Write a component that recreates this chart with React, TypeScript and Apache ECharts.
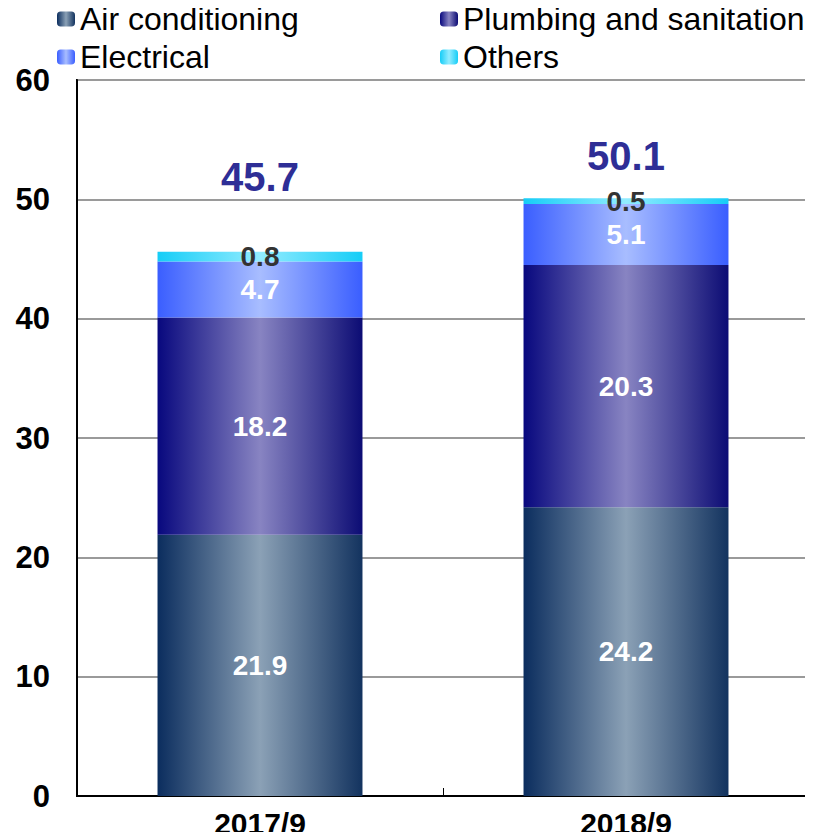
import React, { useEffect, useRef } from "react";
import * as echarts from "echarts";

const categories = ["2017/9", "2018/9"];
const airConditioning = [21.9, 24.2];
const plumbingSanitation = [18.2, 20.3];
const electrical = [4.7, 5.1];
const others = [0.8, 0.5];
const totals = [45.7, 50.1];
const seriesNames = ["Air conditioning", "Plumbing and sanitation", "Electrical", "Others"];

const FONT = "'Liberation Sans', Arial, sans-serif";

const hGrad = (edge: string, mid: string, edgeR?: string) =>
  new echarts.graphic.LinearGradient(0, 0, 1, 0, [
    { offset: 0, color: edge },
    { offset: 0.5, color: mid },
    { offset: 1, color: edgeR || edge },
  ]);

export default function App() {
  const ref = useRef<HTMLDivElement>(null);

  useEffect(() => {
    if (!ref.current) return;
    const chart = echarts.init(ref.current, undefined, { renderer: "svg" });

    const fills = [
      hGrad("#0b2d5e", "#8ba1b6", "#13335f"),
      hGrad("#08087e", "#8884c2", "#0c0c74"),
      hGrad("#3a5eff", "#a8bdff"),
      hGrad("#16cdf7", "#92ecff"),
    ];
    const values = [airConditioning, plumbingSanitation, electrical, others];

    const segmentLabel = (dark: boolean) => ({
      show: true,
      position: "inside" as const,
      fontFamily: FONT,
      fontSize: 28,
      fontWeight: "bold" as const,
      color: dark ? "#333333" : "#ffffff",
    });

    const legendPos = [
      { left: 57, top: 3 },
      { left: 440, top: 3 },
      { left: 57, top: 41 },
      { left: 440, top: 41 },
    ];

    // lift of each total label above its bar top, in pixels
    const totalLabelDistance = [54, 22];

    chart.setOption({
      animation: false,
      backgroundColor: "#ffffff",
      legend: seriesNames.map((name, i) => ({
        data: [name],
        left: legendPos[i].left,
        top: legendPos[i].top,
        itemWidth: 18,
        itemHeight: 15,
        padding: 0,
        selectedMode: false,
        textStyle: { fontFamily: FONT, fontSize: 32, color: "#000" },
      })),
      grid: {
        left: 77,
        right: 4,
        top: 80,
        bottom: 44,
        show: true,
        borderColor: "#000",
        borderWidth: 2,
        containLabel: false,
      },
      xAxis: {
        type: "category",
        data: categories,
        axisLine: { show: true, lineStyle: { color: "#000", width: 2 } },
        axisTick: { show: true, inside: true, length: 8, lineStyle: { color: "#000", width: 1 } },
        axisLabel: {
          fontFamily: FONT,
          fontSize: 30,
          fontWeight: "bold",
          color: "#000",
          margin: 12,
        },
      },
      yAxis: {
        type: "value",
        min: 0,
        max: 60,
        interval: 10,
        axisLine: { show: true, lineStyle: { color: "#000", width: 2 } },
        axisTick: { show: false },
        axisLabel: {
          fontFamily: FONT,
          fontSize: 31,
          fontWeight: "bold",
          color: "#000",
          margin: 27,
        },
        splitLine: { show: true, lineStyle: { color: "#9a9a9a", width: 2 } },
      },
      series: [
        ...seriesNames.map((name, i) => ({
          name,
          type: "bar",
          stack: "total",
          barWidth: "56%",
          data: values[i],
          itemStyle: { color: fills[i] },
          label: segmentLabel(i === 3),
        })),
        {
          name: "Total",
          type: "scatter",
          symbolSize: 0,
          silent: true,
          itemStyle: { opacity: 1 },
          data: totals.map((v, i) => ({
            value: [categories[i], v],
            label: { distance: totalLabelDistance[i] },
          })),
          label: {
            show: true,
            position: "top",
            fontFamily: FONT,
            fontSize: 40,
            fontWeight: "bold",
            color: "#2e2e96",
            opacity: 1,
            formatter: (p: any) => String(p.value[1]),
          },
          z: 5,
        },
      ],
    });

    return () => chart.dispose();
  }, []);

  return <div ref={ref} style={{ width: 813, height: 840, margin: -8 }} />;
}
